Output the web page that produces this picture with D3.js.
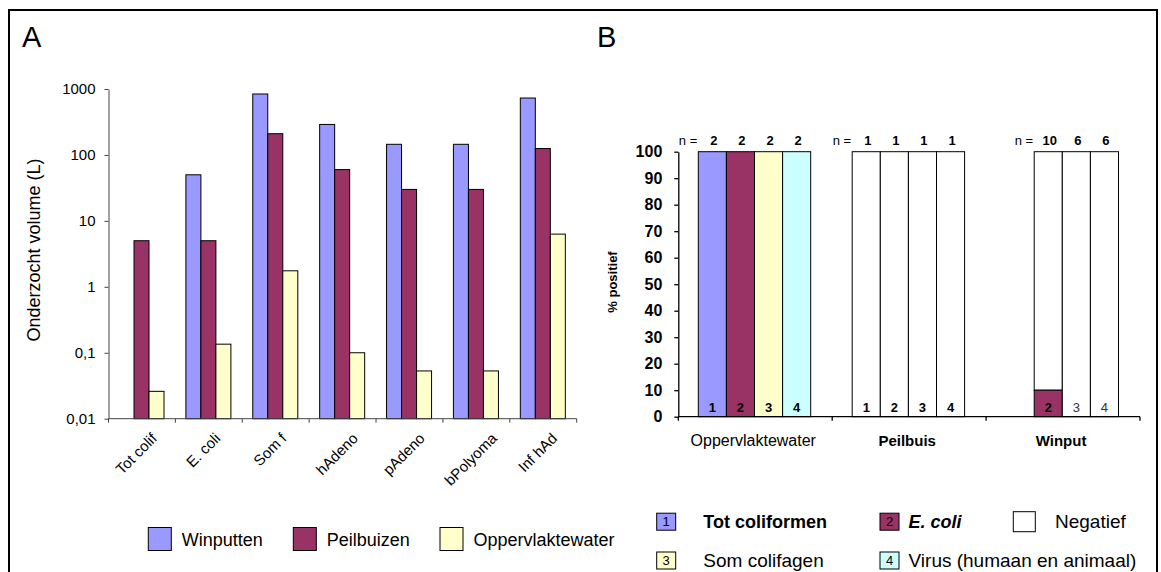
<!DOCTYPE html>
<html>
<head>
<meta charset="utf-8">
<script src="https://cdn.jsdelivr.net/npm/d3@7"></script>
<style>
  html, body { margin: 0; padding: 0; background: #fff; }
  svg { display: block; font-family: "Liberation Sans", Arial, sans-serif; }
</style>
</head>
<body>
<svg id="chart" width="1161" height="572"></svg>
<script>
// ---- Panel A: examined volume (L), log scale ----
const categoriesA = ["Tot colif", "E. coli", "Som f", "hAdeno", "pAdeno", "bPolyoma", "Inf hAd"];
const seriesA = ["Winputten", "Peilbuizen", "Oppervlaktewater"];
const winputten = [null, 50, 840, 290, 145, 145, 730];
const peilbuizen = [5, 5, 210, 60, 30, 30, 125];
const oppervlaktewater = [0.026, 0.135, 1.75, 0.1, 0.053, 0.053, 6.3];
const tickValuesA = [0.01, 0.1, 1, 10, 100, 1000];
const tickLabelsA = ["0,01", "0,1", "1", "10", "100", "1000"];

// ---- Panel B: % positive samples per location ----
const locations = ["Oppervlaktewater", "Peilbuis", "Winput"];
const parameterIds = ["1", "2", "3", "4"];
const parameterNames = ["Tot coliformen", "E. coli", "Som colifagen", "Virus (humaan en animaal)"];
const pctOppervlaktewater = [100, 100, 100, 100];
const pctPeilbuis = [0, 0, 0, 0];
const pctWinput = [null, 10, 0, 0];
const nOppervlaktewater = [2, 2, 2, 2];
const nPeilbuis = [1, 1, 1, 1];
const nWinput = [null, 10, 6, 6];
const tickValuesB = [0, 10, 20, 30, 40, 50, 60, 70, 80, 90, 100];

const svg = d3.select("#chart");

// outer frame
svg.append("path")
  .attr("d", "M9,572V10H1157V572")
  .attr("fill", "none").attr("stroke", "#000").attr("stroke-width", 2);

// =================== Panel A ===================
const colorA = d3.scaleOrdinal(seriesA, ["#9999FF", "#993366", "#FFFFCC"]);
const valuesA = { Winputten: winputten, Peilbuizen: peilbuizen, Oppervlaktewater: oppervlaktewater };

const xA = d3.scaleBand().domain(categoriesA).range([108.5, 576.7]);
const xA1 = d3.scaleBand().domain(seriesA).range([xA.bandwidth() * 0.157, xA.bandwidth() * 0.83]);
const yA = d3.scaleLog().domain([0.01, 1000]).range([418.7, 89]);

const gA = svg.append("g");

gA.append("text").attr("x", 22).attr("y", 46.7)
  .attr("font-size", 29).text("A");

// bars
seriesA.forEach(s => {
  gA.append("g").selectAll("rect")
    .data(categoriesA.map((c, i) => ({ c, v: valuesA[s][i] })).filter(d => d.v != null))
    .join("rect")
    .attr("x", d => xA(d.c) + xA1(s))
    .attr("width", xA1.bandwidth())
    .attr("y", d => yA(d.v))
    .attr("height", d => yA(0.01) - yA(d.v))
    .attr("fill", colorA(s))
    .attr("stroke", "#000").attr("stroke-width", 1);
});

// y axis
const axA = gA.append("g").attr("transform", `translate(${xA.range()[0]},0)`)
  .call(d3.axisLeft(yA).tickValues(tickValuesA)
    .tickFormat((d, i) => tickLabelsA[i]).tickSize(4).tickSizeOuter(0).tickPadding(9));
axA.select(".domain").attr("stroke", "#444");
axA.selectAll(".tick line").attr("stroke", "#444");
axA.selectAll(".tick text").attr("font-size", 15).attr("fill", "#000")
  .attr("font-family", "'Liberation Sans', Arial, sans-serif");

// x axis with ticks at category boundaries
const axXA = gA.append("g").attr("transform", `translate(0,${yA(0.01)})`);
axXA.append("line").attr("x1", xA.range()[0]).attr("x2", xA.range()[1])
  .attr("stroke", "#444");
const edgesA = categoriesA.map(c => xA(c)).concat([xA(categoriesA[categoriesA.length - 1]) + xA.bandwidth()]);
axXA.selectAll(".edge").data(edgesA).join("line")
  .attr("x1", d => d).attr("x2", d => d).attr("y1", 0).attr("y2", 4)
  .attr("stroke", "#444");

// rotated category labels, centred on each category
categoriesA.forEach(c => {
  const cx = xA(c) + xA.bandwidth() / 2;
  const t = gA.append("text").attr("font-size", 15).attr("text-anchor", "middle").text(c);
  const L = t.node().getComputedTextLength();
  const ymid = 431.7 + 0.354 * L + 0.707 * 10.8;
  t.attr("transform", `translate(${cx - 2},${ymid}) rotate(-45)`);
});

// y title
gA.append("text")
  .attr("transform", "translate(40,250) rotate(-90)")
  .attr("text-anchor", "middle").attr("font-size", 18)
  .text("Onderzocht volume (L)");

// legend A
const legendAX = [148.3, 293.3, 440];
seriesA.forEach((s, i) => {
  gA.append("rect").attr("x", legendAX[i]).attr("y", 527.5).attr("width", 23).attr("height", 23)
    .attr("fill", colorA(s)).attr("stroke", "#000").attr("stroke-width", 1);
  gA.append("text").attr("x", legendAX[i] + 33.5).attr("y", 545.5)
    .attr("font-size", 18).text(s);
});

// =================== Panel B ===================
const colorB = d3.scaleOrdinal(parameterIds, ["#9999FF", "#993366", "#FFFFCC", "#CCFFFF"]);
const pctB = { Oppervlaktewater: pctOppervlaktewater, Peilbuis: pctPeilbuis, Winput: pctWinput };
const nB = { Oppervlaktewater: nOppervlaktewater, Peilbuis: nPeilbuis, Winput: nWinput };

const xB = d3.scaleBand().domain(locations).range([678.3, 1140]);
const xB1 = d3.scaleBand().domain(parameterIds).range([20, 20 + 4 * 28.1]);
const yB = d3.scaleLinear().domain([0, 100]).range([416.7, 151.7]);

const gB = svg.append("g");

gB.append("text").attr("x", 597).attr("y", 46.7).attr("font-size", 29).text("B");

locations.forEach(loc => {
  parameterIds.forEach((p, i) => {
    const v = pctB[loc][i];
    if (v == null) return;
    const x0 = xB(loc) + xB1(p);
    const w = xB1.bandwidth();
    // negative share (white) on top, positive share coloured at the bottom
    if (v < 100) {
      gB.append("rect").attr("x", x0).attr("width", w)
        .attr("y", yB(100)).attr("height", yB(v) - yB(100))
        .attr("fill", "#fff").attr("stroke", "#000").attr("stroke-width", 1);
    }
    if (v > 0) {
      gB.append("rect").attr("x", x0).attr("width", w)
        .attr("y", yB(v)).attr("height", yB(0) - yB(v))
        .attr("fill", colorB(p)).attr("stroke", "#000").attr("stroke-width", 1);
    }
    // parameter number at the foot of the bar
    gB.append("text").attr("x", x0 + w / 2).attr("y", 412)
      .attr("text-anchor", "middle").attr("font-size", 13)
      .attr("font-weight", loc === "Winput" && v === 0 ? "normal" : "bold")
      .attr("fill", loc === "Winput" && v === 0 ? "#333" : "#000")
      .text(p);
    // sample count above the bar
    gB.append("text").attr("x", x0 + w / 2 + 1.5).attr("y", 145)
      .attr("text-anchor", "middle").attr("font-size", 13).attr("font-weight", "bold")
      .text(nB[loc][i]);
  });
  // "n =" before the first counted bar
  const firstIdx = nB[loc].findIndex(d => d != null);
  gB.append("text").attr("x", xB(loc) + xB1(parameterIds[firstIdx]) - 1).attr("y", 145)
    .attr("text-anchor", "end").attr("font-size", 13).text("n =");
});

// y axis
const axB = gB.append("g").attr("transform", `translate(${xB.range()[0]},0)`)
  .call(d3.axisLeft(yB).tickValues(tickValuesB).tickSize(4).tickSizeOuter(0).tickPadding(12));
axB.select(".domain").attr("stroke", "#000").attr("stroke-width", 1.3);
axB.selectAll(".tick line").attr("stroke", "#000").attr("stroke-width", 1.3);
axB.selectAll(".tick text").attr("font-size", 16).attr("font-weight", "bold").attr("fill", "#000")
  .attr("font-family", "'Liberation Sans', Arial, sans-serif");

// x axis
const axXB = gB.append("g").attr("transform", `translate(0,${yB(0)})`);
axXB.append("line").attr("x1", xB.range()[0]).attr("x2", xB.range()[1])
  .attr("stroke", "#000").attr("stroke-width", 1.3);
const edgesB = locations.map(l => xB(l)).concat([xB(locations[locations.length - 1]) + xB.bandwidth()]);
axXB.selectAll(".edge").data(edgesB).join("line")
  .attr("x1", d => d).attr("x2", d => d).attr("y1", 0).attr("y2", 4)
  .attr("stroke", "#000").attr("stroke-width", 1.3);

locations.forEach((loc, i) => {
  gB.append("text").attr("x", xB(loc) + xB.bandwidth() / 2 - 2).attr("y", 446)
    .attr("text-anchor", "middle")
    .attr("font-size", i === 0 ? 16 : 15).attr("font-weight", i === 0 ? "normal" : "bold")
    .text(loc);
});

// y title
gB.append("text")
  .attr("transform", "translate(617,282) rotate(-90)")
  .attr("text-anchor", "middle").attr("font-size", 13).attr("font-weight", "bold")
  .text("% positief");

// legend B
const legendBPos = [[656.7, 521.7], [880, 521.7], [656.7, 560.5], [880, 560.5]];
parameterIds.forEach((p, i) => {
  const [lx, ly] = legendBPos[i];
  gB.append("rect").attr("x", lx).attr("y", ly - 8.5).attr("width", 19).attr("height", 17)
    .attr("fill", colorB(p)).attr("stroke", "#000").attr("stroke-width", 1);
  gB.append("text").attr("x", lx + 9.5).attr("y", ly + 4.5).attr("text-anchor", "middle")
    .attr("font-size", 13).text(p);
  const t = gB.append("text").attr("x", lx + (i % 2 === 0 ? 46.6 : 28.5)).attr("y", ly + 6.5)
    .attr("font-size", 19).text(parameterNames[i]);
  if (i === 0) t.attr("font-weight", "bold").attr("font-size", 18);
  if (i === 1) t.attr("font-weight", "bold").attr("font-style", "italic").attr("font-size", 18);
});
gB.append("rect").attr("x", 1013.3).attr("y", 511.7).attr("width", 22).attr("height", 20)
  .attr("fill", "#fff").attr("stroke", "#000").attr("stroke-width", 1);
gB.append("text").attr("x", 1055).attr("y", 528.2).attr("font-size", 19).text("Negatief");
</script>
</body>
</html>
